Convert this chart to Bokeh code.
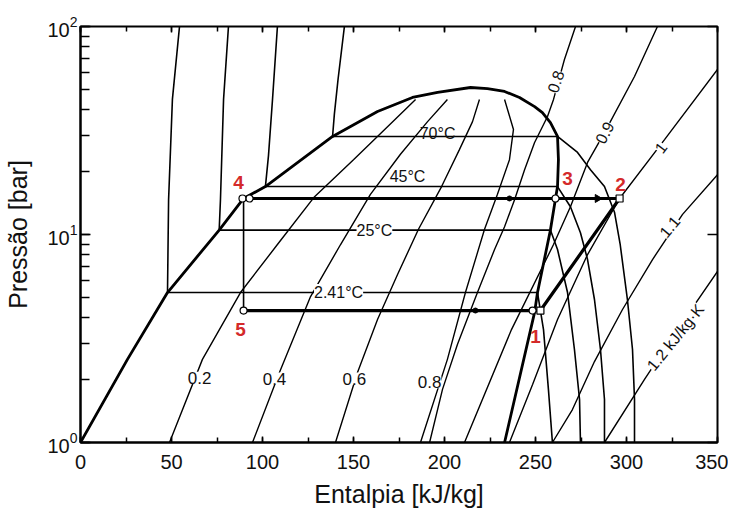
import numpy as np
from bokeh.plotting import figure
from bokeh.models import Label, LinearAxis, LogAxis, SingleIntervalTicker, LogTicker, CustomJSTickFormatter
from bokeh.embed import file_html
from bokeh.resources import INLINE

FONT = "Liberation Sans"

# ---------------- data ----------------
# saturation dome (liquid side -> critical region -> vapour side)
SAT_H = [0, 25.8, 47.8, 76.2, 89.6, 101.6, 138.5, 163.2, 182.4, 196.2, 214.3, 223.6, 233.0,
         241.2, 249.5, 253.8, 258.2, 262.1, 262.6, 262.1, 261.0, 258.2, 251.1, 249.5, 233.0]
SAT_P = [1.0, 2.51, 5.26, 10.5, 14.9, 17.0, 29.6, 39.0, 45.6, 48.2, 50.9, 50.3, 48.7,
         45.6, 41.2, 38.5, 34.5, 29.6, 22.9, 17.0, 14.9, 10.5, 5.26, 4.22, 1.0]

# isotherms
T241_H = [54.4, 50.5, 48.4, 47.8, 251.1, 254.4, 257.1, 259.3]
T241_P = [100, 44.6, 14.7, 5.26, 5.26, 3.49, 1.80, 1.0]
T25_H = [81.3, 78.6, 76.9, 76.2, 258.2, 262.1, 267.6, 271.4, 274.2, 274.7]
T25_P = [100, 44.6, 14.7, 10.5, 10.5, 8.47, 5.26, 2.80, 1.61, 1.0]
T45_H = [108.2, 105.5, 103.3, 101.6, 262.1, 269.2, 274.7, 278.6, 282.4, 285.7, 287.9, 287.9]
T45_P = [100, 44.6, 24.0, 17.0, 17.0, 13.6, 10.2, 7.58, 4.87, 2.80, 1.61, 1.0]
T70_H = [145.0, 141.5, 139.5, 138.5, 262.1, 273.1, 280.2, 287.9, 293.4, 296.5, 300.5, 303.3, 304.4, 304.4]
T70_P = [100, 55.6, 38.0, 29.6, 29.6, 24.8, 20.5, 17.0, 12.8, 9.0, 4.87, 2.80, 1.61, 1.0]

# constant quality lines
Q2_H = [48.9, 67.0, 87.9, 108.2, 128.6, 150.0, 168.7, 184.1]
Q2_P = [1.0, 2.51, 5.26, 8.95, 15.2, 22.9, 33.0, 44.6]
Q4_H = [94.5, 109.3, 126.4, 142.9, 159.3, 175.8, 190.7, 201.6]
Q4_P = [1.0, 2.17, 5.03, 8.95, 15.6, 24.3, 34.9, 44.6]
Q6_H = [140.1, 152.2, 163.2, 174.2, 185.7, 198.4, 208.2, 215.4, 219.2]
Q6_P = [1.0, 2.17, 3.90, 6.42, 10.6, 17.0, 25.6, 34.9, 44.6]
Q8_H = [186.8, 201.6, 211.5, 222.0, 229.1, 235.7, 237.9, 233.0]
Q8_P = [1.0, 2.51, 5.26, 10.6, 15.6, 22.9, 32.0, 44.6]

# constant entropy lines [kJ/kg.K]
S08_H = [272.0, 265.9, 259.9, 256.6, 249.5, 244.0, 238.5, 233.0, 227.5, 218.1, 207.1, 198.9, 191.8]
S08_P = [100, 69.4, 44.6, 36.9, 27.7, 20.5, 14.7, 10.9, 8.47, 5.26, 2.96, 1.80, 1.0]
S09_H = [317.0, 304.4, 287.9, 278.6, 269.2, 259.9, 236.8, 211.0]
S09_P = [100, 57.5, 30.9, 22.2, 13.6, 8.95, 3.49, 1.0]
S10_H = [350.0, 320.9, 296.2, 278.6, 262.1, 248.4, 235.7]
S10_P = [62.1, 28.6, 14.9, 8.01, 3.90, 1.90, 1.0]
S11_H = [350.0, 330.8, 314.3, 297.8, 282.4, 270.3, 259.3]
S11_P = [19.4, 12.5, 7.58, 4.36, 2.45, 1.44, 1.0]
S12_H = [350.0, 328.0, 309.9, 287.9]
S12_P = [6.64, 3.49, 2.01, 1.0]

# refrigeration cycle
P_HIGH = 14.9
P_LOW = 4.31
CYC_H = [89.6, 252.7, 296.2, 92.9]      # 5 -> 1 -> 2 -> 4
CYC_P = [P_LOW, P_LOW, P_HIGH, P_HIGH]
EXP_H = [89.6, 89.6]                     # 4 -> 5
EXP_P = [P_HIGH, P_LOW]
CIRC_H = [89.0, 92.9, 89.6, 248.4, 261.0]
CIRC_P = [P_HIGH, P_HIGH, P_LOW, P_LOW, P_HIGH]
SQ_H = [252.7, 296.2]
SQ_P = [P_LOW, P_HIGH]
DOT_H = [235.7, 217.0]
DOT_P = [P_HIGH, P_LOW]
ARROW_H = [284.1]
ARROW_P = [P_HIGH]

STATE_LABELS = ["1", "2", "3", "4", "5"]
STATE_LH = [250.0, 296.7, 267.6, 86.8, 87.9]
STATE_LP = [3.23, 17.4, 18.6, 17.8, 3.49]

TEMP_LABELS = ["70°C", "45°C", "25°C", "2.41°C"]
TEMP_LH = [196.2, 179.7, 161.5, 141.8]
TEMP_LP = [30.6, 19.0, 10.5, 5.26]

QUAL_LABELS = ["0.2", "0.4", "0.6", "0.8"]
QUAL_LH = [65.4, 106.6, 150.5, 191.8]
QUAL_LP = [2.05, 2.03, 2.03, 1.95]

ENT_LABELS = ["0.8", "0.9", "1", "1.1", "1.2 kJ/kg·K"]
ENT_LH = [261.0, 287.9, 318.7, 323.6, 326.9]
ENT_LP = [54.4, 30.9, 26.2, 10.9, 3.20]
ENT_ANG = [72, 62, 53, 50, 51]

X_TITLE = "Entalpia [kJ/kg]"
Y_TITLE = "Pressão [bar]"

# ---------------- figure ----------------
p = figure(frame_width=637, frame_height=416, x_range=(0, 350), y_range=(1, 100),
           y_axis_type="log", output_backend="svg", toolbar_location=None,
           min_border_left=80, min_border_right=11, min_border_top=26, min_border_bottom=72,
           background_fill_color="white", border_fill_color="white")
p.xgrid.visible = False
p.ygrid.visible = False
p.outline_line_color = "black"
p.outline_line_width = 2

xa = p.xaxis[0]
xa.ticker = SingleIntervalTicker(interval=50, num_minor_ticks=2)
xa.major_tick_in = 6
xa.major_tick_out = 0
xa.minor_tick_in = 5
xa.minor_tick_out = 0
xa.axis_line_width = 2
xa.major_tick_line_width = 1.5
xa.minor_tick_line_width = 1.5
xa.major_label_text_font = FONT
xa.major_label_text_font_size = "20px"
xa.major_label_text_color = "#111111"
xa.major_label_standoff = 12
xa.axis_label = X_TITLE
xa.axis_label_text_font = FONT
xa.axis_label_text_font_size = "25px"
xa.axis_label_text_font_style = "normal"
xa.axis_label_text_color = "#111111"
xa.axis_label_standoff = 8

ya = p.yaxis[0]
ya.ticker = LogTicker(num_minor_ticks=10)
ya.major_tick_in = 10
ya.major_tick_out = 0
ya.minor_tick_in = 9
ya.minor_tick_out = 0
ya.axis_line_width = 2
ya.major_tick_line_width = 1.5
ya.minor_tick_line_width = 1.5
ya.major_label_text_font = FONT
ya.major_label_text_font_size = "20px"
ya.major_label_text_color = "#111111"
ya.major_label_standoff = 3
ya.axis_label = Y_TITLE
ya.axis_label_text_font = FONT
ya.axis_label_text_font_size = "25px"
ya.axis_label_text_font_style = "normal"
ya.axis_label_text_color = "#111111"
ya.axis_label_standoff = 12

blank = CustomJSTickFormatter(code="return ' ';")
top = LinearAxis(ticker=SingleIntervalTicker(interval=50, num_minor_ticks=2), formatter=blank,
                 major_tick_in=6, major_tick_out=0, minor_tick_in=5, minor_tick_out=0,
                 major_label_text_font_size="2px", axis_line_color=None,
                 major_tick_line_width=1.5, minor_tick_line_width=1.5, major_label_standoff=0)
p.add_layout(top, "above")
right = LogAxis(ticker=LogTicker(num_minor_ticks=10), formatter=CustomJSTickFormatter(code="return ' ';"),
                major_tick_in=10, major_tick_out=0, minor_tick_in=0, minor_tick_out=0,
                major_label_text_font_size="2px", axis_line_color=None,
                major_tick_line_width=1.5, major_label_standoff=0)
p.add_layout(right, "right")

# thin property lines
for hh, pp in [(Q2_H, Q2_P), (Q4_H, Q4_P), (Q6_H, Q6_P), (Q8_H, Q8_P),
               (S08_H, S08_P), (S09_H, S09_P), (S10_H, S10_P), (S11_H, S11_P), (S12_H, S12_P)]:
    p.line(hh, pp, line_color="black", line_width=1.4)

# isotherms
for hh, pp in [(T241_H, T241_P), (T25_H, T25_P), (T45_H, T45_P), (T70_H, T70_P)]:
    p.line(hh, pp, line_color="black", line_width=1.6)

# saturation dome
p.line(SAT_H, SAT_P, line_color="black", line_width=2.8)

# cycle
p.line(EXP_H, EXP_P, line_color="black", line_width=1.6)
p.line(CYC_H, CYC_P, line_color="black", line_width=3.2)
p.scatter(CIRC_H, CIRC_P, marker="circle", size=7, fill_color="white", line_color="black", line_width=1.2)
p.scatter(SQ_H, SQ_P, marker="square", size=7, fill_color="white", line_color="black", line_width=1.2)
p.scatter(DOT_H, DOT_P, marker="circle", size=5, fill_color="black", line_color="black")
p.scatter(ARROW_H, ARROW_P, marker="triangle", size=8, angle=-np.pi / 2,
          fill_color="black", line_color="black")

# labels
def lab(x, y, text, size, angle=0.0, bg=None, color="#111111", style="normal"):
    kw = dict(x=x, y=y, text=text, text_align="center", text_baseline="middle",
              text_font=FONT, text_font_size=size, text_color=color,
              text_font_style=style, angle=float(np.deg2rad(angle)))
    if bg:
        kw.update(background_fill_color=bg)
    p.add_layout(Label(**kw))

for t, x, y in zip(TEMP_LABELS, TEMP_LH, TEMP_LP):
    lab(x, y, t, "16px", bg="white" if t in ("25°C", "2.41°C") else None)
for t, x, y in zip(QUAL_LABELS, QUAL_LH, QUAL_LP):
    lab(x, y, t, "17px", bg="white")
for t, x, y, a in zip(ENT_LABELS, ENT_LH, ENT_LP, ENT_ANG):
    lab(x, y, t, "16px", angle=a, bg="white")
for t, x, y in zip(STATE_LABELS, STATE_LH, STATE_LP):
    lab(x, y, t, "19px", color="#d42a2a", style="bold")

open("out.html", "w").write(file_html(p, INLINE))
